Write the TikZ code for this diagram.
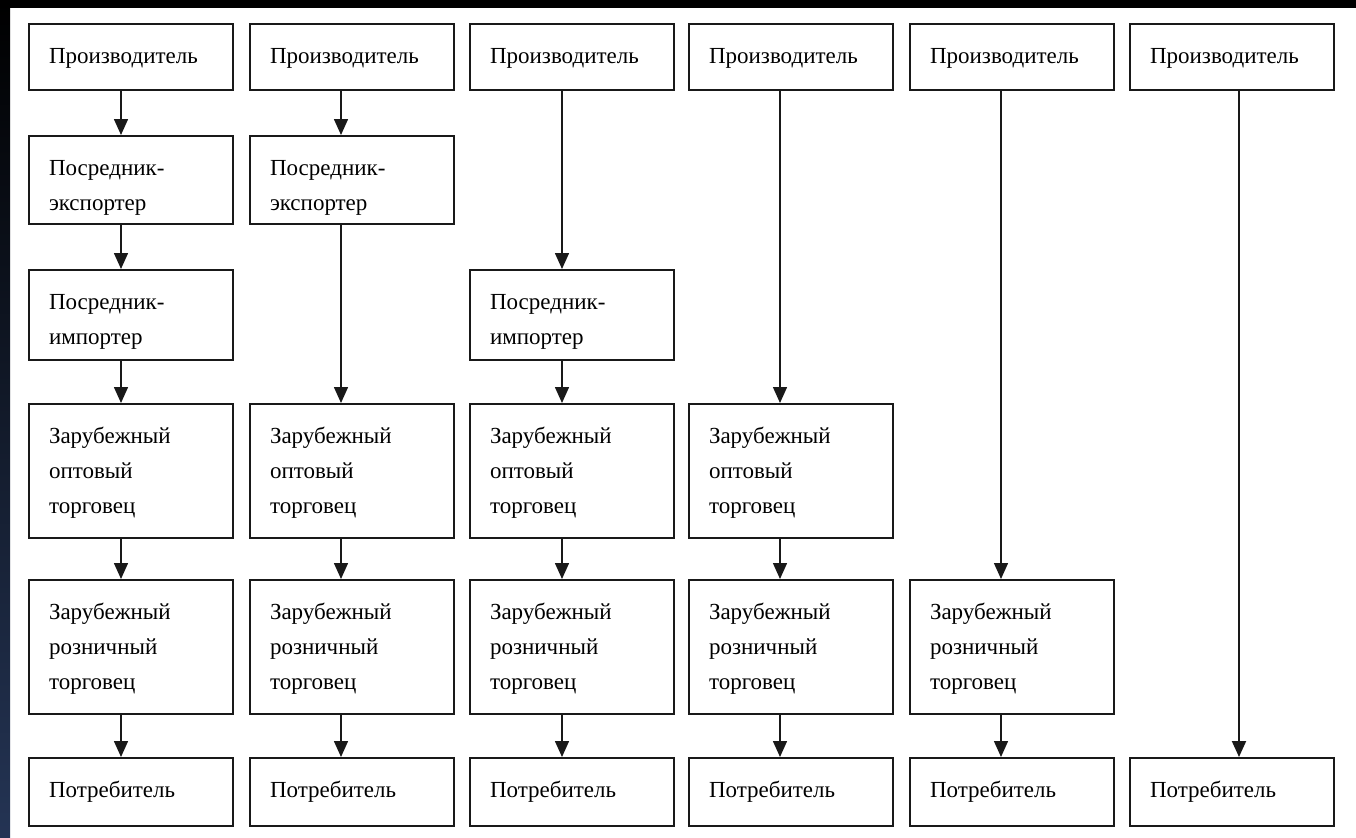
\documentclass[tikz,border=0pt]{standalone}
\usepackage{fontspec}
\setmainfont{Liberation Serif}
\usetikzlibrary{arrows.meta}
\definecolor{framenavy}{RGB}{36,52,84}
\definecolor{boxline}{RGB}{25,25,25}

\begin{document}
\begin{tikzpicture}[x=0.5pt,y=-0.5pt,
  box/.style={draw=boxline,line width=1pt,anchor=north west,align=left,text width=82pt,inner xsep=10pt,inner ysep=0pt,text height=19.5pt,font=\fontsize{11.5}{17.5}\selectfont},
  row1/.style={box,text depth=13.5pt},
  row2/.style={box,text depth=24.5pt},
  row3/.style={box,text depth=25.5pt},
  row4/.style={box,text depth=47.5pt},
  row5/.style={box,text depth=47.5pt},
  row6/.style={box,text depth=14.5pt},
  arr/.style={draw=boxline,line width=0.75pt,-{Triangle[length=8pt,width=7pt]}}]
\useasboundingbox (0,0) rectangle (1356,837);
\fill[white] (0,0) rectangle (1356,837);
\shade[top color=black,bottom color=framenavy] (0,0) rectangle (10,837);
\fill[black] (0,0) rectangle (1356,8);
\node[row1] (p1) at (28,23) {Производитель};
\node[row2] (ex1) at (28,135) {Посредник-\\экспортер};
\node[row3] (im1) at (28,269) {Посредник-\\импортер};
\node[row4] (opt1) at (28,403) {Зарубежный\\оптовый\\торговец};
\node[row5] (roz1) at (28,579) {Зарубежный\\розничный\\торговец};
\node[row6] (c1) at (28,757) {Потребитель};
\node[row1] (p2) at (249,23) {Производитель};
\node[row2] (ex2) at (249,135) {Посредник-\\экспортер};
\node[row4] (opt2) at (249,403) {Зарубежный\\оптовый\\торговец};
\node[row5] (roz2) at (249,579) {Зарубежный\\розничный\\торговец};
\node[row6] (c2) at (249,757) {Потребитель};
\node[row1] (p3) at (469,23) {Производитель};
\node[row3] (im3) at (469,269) {Посредник-\\импортер};
\node[row4] (opt3) at (469,403) {Зарубежный\\оптовый\\торговец};
\node[row5] (roz3) at (469,579) {Зарубежный\\розничный\\торговец};
\node[row6] (c3) at (469,757) {Потребитель};
\node[row1] (p4) at (688,23) {Производитель};
\node[row4] (opt4) at (688,403) {Зарубежный\\оптовый\\торговец};
\node[row5] (roz4) at (688,579) {Зарубежный\\розничный\\торговец};
\node[row6] (c4) at (688,757) {Потребитель};
\node[row1] (p5) at (909,23) {Производитель};
\node[row5] (roz5) at (909,579) {Зарубежный\\розничный\\торговец};
\node[row6] (c5) at (909,757) {Потребитель};
\node[row1] (p6) at (1129,23) {Производитель};
\node[row6] (c6) at (1129,757) {Потребитель};
\draw[arr] ([xshift=46.5pt]p1.south west) -- ([xshift=46.5pt]ex1.north west);
\draw[arr] ([xshift=46.5pt]ex1.south west) -- ([xshift=46.5pt]im1.north west);
\draw[arr] ([xshift=46.5pt]im1.south west) -- ([xshift=46.5pt]opt1.north west);
\draw[arr] ([xshift=46.5pt]opt1.south west) -- ([xshift=46.5pt]roz1.north west);
\draw[arr] ([xshift=46.5pt]roz1.south west) -- ([xshift=46.5pt]c1.north west);
\draw[arr] ([xshift=46pt]p2.south west) -- ([xshift=46pt]ex2.north west);
\draw[arr] ([xshift=46pt]ex2.south west) -- ([xshift=46pt]opt2.north west);
\draw[arr] ([xshift=46pt]opt2.south west) -- ([xshift=46pt]roz2.north west);
\draw[arr] ([xshift=46pt]roz2.south west) -- ([xshift=46pt]c2.north west);
\draw[arr] ([xshift=46.5pt]p3.south west) -- ([xshift=46.5pt]im3.north west);
\draw[arr] ([xshift=46.5pt]im3.south west) -- ([xshift=46.5pt]opt3.north west);
\draw[arr] ([xshift=46.5pt]opt3.south west) -- ([xshift=46.5pt]roz3.north west);
\draw[arr] ([xshift=46.5pt]roz3.south west) -- ([xshift=46.5pt]c3.north west);
\draw[arr] ([xshift=46pt]p4.south west) -- ([xshift=46pt]opt4.north west);
\draw[arr] ([xshift=46pt]opt4.south west) -- ([xshift=46pt]roz4.north west);
\draw[arr] ([xshift=46pt]roz4.south west) -- ([xshift=46pt]c4.north west);
\draw[arr] ([xshift=46pt]p5.south west) -- ([xshift=46pt]roz5.north west);
\draw[arr] ([xshift=46pt]roz5.south west) -- ([xshift=46pt]c5.north west);
\draw[arr,line width=1pt] ([xshift=55pt]p6.south west) -- ([xshift=55pt]c6.north west);
\end{tikzpicture}
\end{document}
